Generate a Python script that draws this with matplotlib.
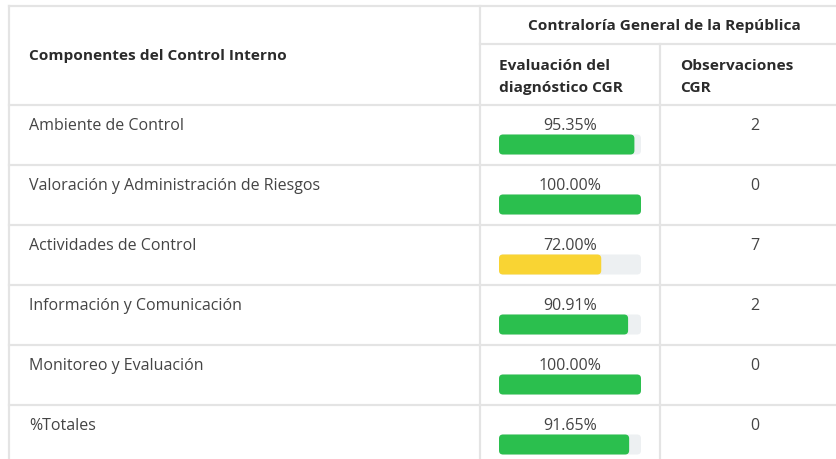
import matplotlib
matplotlib.use("Agg")
import matplotlib.pyplot as plt
from matplotlib.patches import FancyBboxPatch

plt.rcParams['font.family'] = ['Open Sans', 'DejaVu Sans']

components = ["Ambiente de Control",
              "Valoración y Administración de Riesgos",
              "Actividades de Control",
              "Información y Comunicación",
              "Monitoreo y Evaluación",
              "%Totales"]
evaluation = [95.35, 100.00, 72.00, 90.91, 100.00, 91.65]
observations = [2, 0, 7, 2, 0, 0]

header_main = "Componentes del Control Interno"
header_group = "Contraloría General de la República"
header_eval = "Evaluación del\ndiagnóstico CGR"
header_obs = "Observaciones\nCGR"

W, H = 836, 460
fig = plt.figure(figsize=(W / 100, H / 100), dpi=100)
ax = fig.add_axes([0, 0, 1, 1])
ax.set_xlim(0, W)
ax.set_ylim(H, 0)
ax.axis("off")

line_c = "#e4e4e4"
lw = 1.6
x_left, x_c1, x_c2, x_right = 9, 480, 660, 836
y_top, y_h1, y_h2 = 7, 45, 105.5
row_h = 60

# grid lines
ax.plot([x_left, x_right], [y_top, y_top], color=line_c, lw=lw)
ax.plot([x_left, x_left], [y_top, H], color=line_c, lw=lw)
ax.plot([x_c1, x_c1], [y_top, H], color=line_c, lw=lw)
ax.plot([x_c2, x_c2], [y_h1, H], color=line_c, lw=lw)
ax.plot([x_c1, x_right], [y_h1, y_h1], color=line_c, lw=lw)
for i in range(len(components)):
    y = y_h2 + i * row_h
    ax.plot([x_left, x_right], [y, y], color=line_c, lw=lw)

head_c = "#2b2b2b"
body_c = "#444444"
fs = 11.5
hfs = 11.1

ax.text(29, 56, header_main, fontsize=hfs, fontweight="bold", color=head_c,
        ha="left", va="center")
ax.text((x_c1 + x_right) / 2 + 6, 26, header_group, fontsize=hfs, fontweight="bold",
        color=head_c, ha="center", va="center")
ax.text(499, 77, header_eval, fontsize=hfs, fontweight="bold", color=head_c,
        ha="left", va="center", linespacing=1.65)
ax.text(680, 77, header_obs, fontsize=hfs, fontweight="bold", color=head_c,
        ha="left", va="center", linespacing=1.65)

track_x0, track_w, bar_h = 499, 142, 20
green, yellow, track_c = "#2bbf4e", "#f9d433", "#edf0f2"

for i, (name, val, obs) in enumerate(zip(components, evaluation, observations)):
    top = y_h2 + i * row_h
    ax.text(29, top + 21, name, fontsize=fs, color=body_c, ha="left", va="center")
    ax.text(track_x0 + track_w / 2, top + 21, f"{val:.2f}%", fontsize=fs,
            color=body_c, ha="center", va="center")
    ax.text(755, top + 21, str(obs), fontsize=fs, color=body_c,
            ha="center", va="center")
    by = top + 30
    ax.add_patch(FancyBboxPatch((track_x0, by), track_w, bar_h,
                                boxstyle="round,pad=0,rounding_size=4",
                                fc=track_c, ec="none"))
    col = green if val >= 80 else yellow
    ax.add_patch(FancyBboxPatch((track_x0, by), track_w * val / 100, bar_h,
                                boxstyle="round,pad=0,rounding_size=4",
                                fc=col, ec="none"))

fig.savefig("out.png", dpi=100, facecolor="white")
